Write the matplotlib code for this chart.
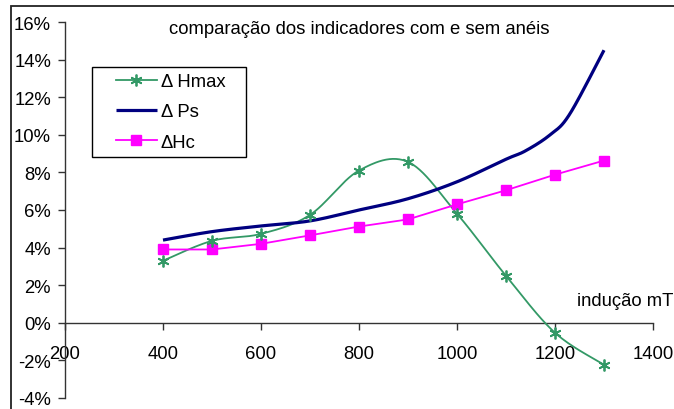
import numpy as np
import matplotlib
matplotlib.use("Agg")
import matplotlib.pyplot as plt
from matplotlib.patches import Rectangle
from matplotlib.ticker import FuncFormatter, MultipleLocator

plt.rcParams['font.family'] = ['Liberation Sans', 'DejaVu Sans']

# induction values (mT) and relative differences (%)
induction = [400, 500, 600, 700, 800, 900, 1000, 1100, 1200, 1300]
delta_hmax = [3.3, 4.36, 4.73, 5.74, 8.1, 8.56, 5.8, 2.5, -0.53, -2.23]
delta_hc = [3.9, 3.9, 4.2, 4.65, 5.12, 5.5, 6.3, 7.05, 7.88, 8.63]
ps_induction = [400, 500, 600, 700, 800, 900, 1000, 1100, 1140, 1190, 1230, 1300]
delta_ps = [4.4, 4.85, 5.15, 5.42, 6.0, 6.6, 7.5, 8.7, 9.15, 10.0, 11.1, 14.5]

title = "comparação dos indicadores com e sem anéis"
xlabel = "indução mT"

W, H = 674, 410
FS = 13.3
fig = plt.figure(figsize=(W / 100, H / 100), dpi=100)
ax = fig.add_axes([65 / W, (H - 399) / H, 588 / W, 376 / H])


def smooth(x, y, sx=1.0, sy=1.0, n=30):
    """Bezier smoothing through the points (control points from neighbours)."""
    p = np.column_stack([np.asarray(x, float) * sx, np.asarray(y, float) * sy])
    out = [p[0]]
    for i in range(len(p) - 1):
        p0 = p[i - 1] if i > 0 else p[i]
        p1, p2 = p[i], p[i + 1]
        p3 = p[i + 2] if i + 2 < len(p) else p[i + 1]
        c1 = p1 + (p2 - p0) / 6.0
        c2 = p2 - (p3 - p1) / 6.0
        t = np.linspace(0, 1, n)[1:, None]
        seg = ((1 - t) ** 3) * p1 + 3 * ((1 - t) ** 2) * t * c1 + 3 * (1 - t) * t ** 2 * c2 + t ** 3 * p2
        out.extend(seg)
    out = np.array(out)
    return out[:, 0] / sx, out[:, 1] / sy


sx, sy = 0.49, 18.8
green = "#339966"
navy = "#000080"
magenta = "#FF00FF"

hx, hy = smooth(induction, delta_hmax, sx, sy)
ax.plot(hx, hy, color=green, lw=1.3, zorder=3)
ax.plot(induction, delta_hmax, ls='none', marker=(6, 2, 0), ms=8.5, mec=green, mew=1.3, zorder=4)
ax.plot([], [], color=green, lw=1.3, marker=(6, 2, 0), ms=8.5, mec=green, mew=1.3, label="Δ Hmax")

px, py = smooth(ps_induction, delta_ps, sx, sy)
ax.plot(px, py, color=navy, lw=2.3, solid_capstyle='butt', zorder=3, label="Δ Ps")

ax.plot(induction, delta_hc, color=magenta, lw=1.3, marker='s', ms=6.5, mfc=magenta, mec=magenta,
        zorder=3, label="ΔHc")

ax.set_xlim(200, 1400)
ax.set_ylim(-4, 16)
ax.xaxis.set_major_locator(MultipleLocator(200))
ax.yaxis.set_major_locator(MultipleLocator(2))
ax.yaxis.set_major_formatter(FuncFormatter(lambda v, _: f"{v:.0f}%"))

for s in ('top', 'right'):
    ax.spines[s].set_visible(False)
ax.spines['bottom'].set_position(('data', 0))
ax.spines['left'].set_position(('data', 200))
for s in ('bottom', 'left'):
    ax.spines[s].set_color('#333333')
    ax.spines[s].set_linewidth(1.0)

ax.tick_params(axis='x', direction='out', length=5, width=1, color='#333333', pad=11, labelsize=FS)
ax.tick_params(axis='y', direction='out', length=5, width=1, color='#333333', pad=5, labelsize=FS)
ax.patch.set_visible(False)

fig.text(359 / W, 1 - 30 / H, title, ha='center', va='center', fontsize=FS)
fig.text(673 / W, 1 - 302 / H, xlabel, ha='right', va='center', fontsize=FS)

# legend entries without frame; the box is drawn separately behind them
leg = ax.legend(loc='upper left', bbox_to_anchor=(116 / W, 1 - 74 / H), bbox_transform=fig.transFigure,
                borderaxespad=0, frameon=False, fontsize=FS,
                handlelength=2.2, handletextpad=0.22, labelspacing=0.72, borderpad=0)
leg.set_zorder(6)
ax.add_patch(Rectangle((92 / W, 1 - 158 / H), 154 / W, 90 / H, transform=fig.transFigure,
                       fill=True, fc='white', ec='black', lw=1.0, zorder=5, clip_on=False))

# outer frame of the chart area
fig.add_artist(Rectangle((11 / W, -0.5), 1.5, 0.5 + (1 - 7 / H), transform=fig.transFigure,
                         fill=False, ec='#222222', lw=1.3))

fig.savefig("out.png", dpi=100)
